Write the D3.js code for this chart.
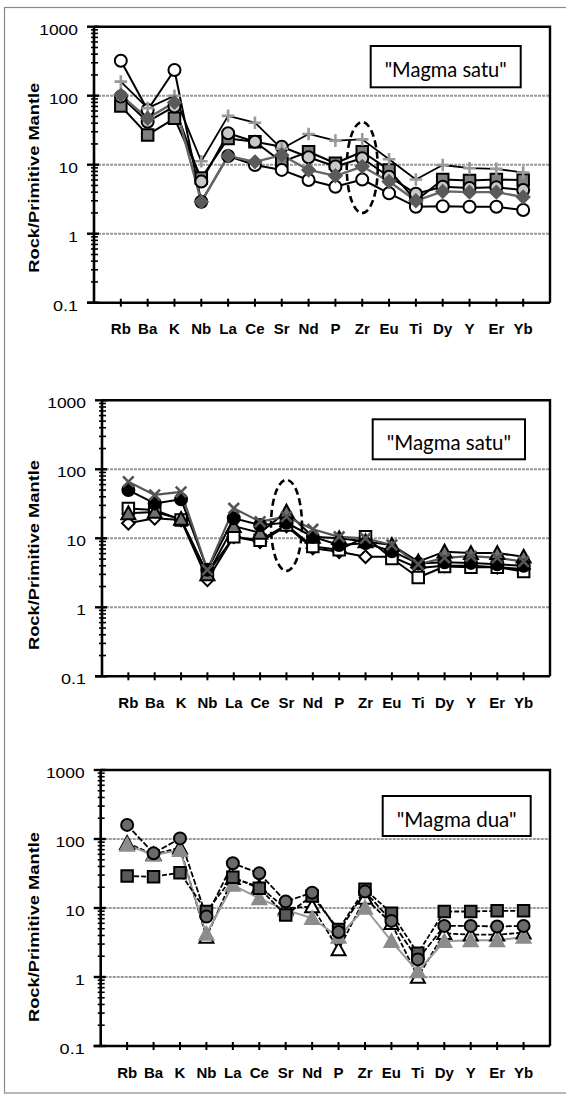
<!DOCTYPE html>
<html><head><meta charset="utf-8">
<script src="https://cdn.jsdelivr.net/npm/d3@7"></script>
<style>
html,body{margin:0;padding:0;background:#fff;}
svg{display:block;}
</style></head>
<body>
<svg id="chart" width="566" height="1095"></svg>
<script>
// ---------------- DATA ----------------
const categories = ["Rb","Ba","K","Nb","La","Ce","Sr","Nd","P","Zr","Eu","Ti","Dy","Y","Er","Yb"];
const yTickValues = [0.1, 1, 10, 100, 1000];
const yTickLabels = ["0.1", "1", "10", "100", "1000"];
const yTitle = "Rock/Primitive Mantle";

// Panel 1 — "Magma satu"
const p1OpenCircle  = [321, 62, 236, 2.9, 13.4, 9.9, 8.4, 6.0, 4.8, 6.1, 3.85, 2.46, 2.5, 2.46, 2.46, 2.2];
const p1Plus        = [160, 66, 100, 11.2, 51, 40.6, 17, 27.9, 22.3, 23.3, 12, 6.1, 9.9, 8.9, 8.7, 7.7];
const p1Square      = [71, 27, 47, 6.4, 24, 21.5, 11, 15.4, 10.5, 15.4, 8.4, 3.0, 6.1, 5.9, 6.1, 6.0];
const p1LightCircle = [97, 42, 70, 5.7, 28.5, 21.5, 18.2, 12.8, 9.4, 12.4, 6.7, 3.8, 4.8, 4.6, 4.7, 4.3];
const p1Diamond     = [102, 47, 80, 2.9, 13.4, 11, 13.8, 8.4, 6.9, 9.4, 5.7, 3.0, 4.1, 4.0, 4.0, 3.4];
const p1Label = "\"Magma satu\"";
const p1Ellipse = {cat: "Zr", value: 9.1};

// Panel 2 — "Magma satu"
const p2Cross       = [66, 42.5, 47, 3.5, 27.2, 17.4, 20.6, 13.5, 10.5, 10, 8, 4.2, 5.2, 5.5, 5.2, 4.6];
const p2BlackCircle = [50, 32, 36.7, 3.5, 19.5, 15.6, 16.8, 10.5, 8, 8.5, 6.5, 4.3, 4.5, 4.4, 4.2, 4.0];
const p2OpenSquare  = [27, 25.7, 18.4, 3.1, 10.5, 9.4, 15.6, 7.6, 6.8, 10.5, 5.1, 2.7, 3.9, 3.8, 3.8, 3.3];
const p2Triangle    = [23, 24, 19, 3.0, 15, 12, 24.3, 10.5, 10, 9, 8, 4.6, 6.4, 6.1, 6.1, 5.4];
const p2OpenDiamond = [16.5, 19.5, 18.4, 2.5, 10.5, 8.9, 15, 7.2, 6.4, 5.4, 5.4, 3.7, 4.0, 4.0, 3.8, 3.6];
const p2Label = "\"Magma satu\"";
const p2Ellipse = {cat: "Sr", value: 15.4};

// Panel 3 — "Magma dua"
const p3Square       = [29, 28.4, 32.5, 8.9, 27.9, 19.3, 7.9, 14.9, 4.9, 18.7, 8.4, 2.2, 8.9, 8.9, 9.1, 9.1];
const p3Circle       = [160, 62, 102, 7.5, 44.5, 31.8, 12.4, 16.7, 4.5, 17.3, 6.5, 1.8, 5.5, 5.5, 5.4, 5.5];
const p3OpenTriangle = [87, 60, 75, 3.8, 27, 20.4, 9.9, 10.5, 2.5, 14, 6, 1.0, 4.3, 4.1, 4.1, 4.4];
const p3GrayTriangle = [82, 58.6, 69, 4.2, 21.5, 13.8, 9.4, 7.1, 3.8, 10, 3.3, 1.2, 3.3, 3.4, 3.4, 3.8];
const p3Label = "\"Magma dua\"";

// ---------------- STYLE / LAYOUT ----------------
const FONT = "'Liberation Sans', Arial, Helvetica, sans-serif";
const panels = [
  {left: 94, right: 550, top: 26.7, bottom: 302.7, titleY: 177.7,
   box: {x: 370.7, y: 46, w: 150, h: 41.3}, label: p1Label, ellipse: p1Ellipse,
   series: [
     {data: p1Square, marker: "square", fill: "#808080", stroke: "#000", line: "#000", lw: 2},
     {data: p1LightCircle, marker: "circle", fill: "#c8c8c8", stroke: "#000", line: "#000", lw: 2},
     {data: p1OpenCircle, marker: "circle", fill: "#fff", stroke: "#000", line: "#000", lw: 2},
     {data: p1Plus, marker: "plus", fill: "none", stroke: "#999", line: "#000", lw: 1.8},
     {data: p1Diamond, marker: "diamond", fill: "#5a5a5a", stroke: "#5a5a5a", line: "#666", lw: 2.4}
   ]},
  {left: 102, right: 550, top: 400.3, bottom: 676.3, titleY: 555,
   box: {x: 372.7, y: 419.3, w: 152.3, h: 40}, label: p2Label, ellipse: p2Ellipse,
   series: [
     {data: p2OpenDiamond, marker: "diamond", fill: "#fff", stroke: "#000", line: "#000", lw: 2},
     {data: p2OpenSquare, marker: "square", fill: "#fff", stroke: "#000", line: "#000", lw: 2},
     {data: p2Triangle, marker: "triangle", fill: "#707070", stroke: "#000", line: "#000", lw: 2},
     {data: p2BlackCircle, marker: "circle", fill: "#000", stroke: "#000", line: "#000", lw: 2},
     {data: p2Cross, marker: "x", fill: "none", stroke: "#555", line: "#555", lw: 2.2}
   ]},
  {left: 100.7, right: 550, top: 770, bottom: 1046, titleY: 927,
   box: {x: 382.7, y: 796, w: 148, h: 40}, label: p3Label, ellipse: null,
   series: [
     {data: p3OpenTriangle, marker: "triangle", fill: "#fff", stroke: "#000", line: "#000", lw: 1.8, dash: "5,2"},
     {data: p3GrayTriangle, marker: "triangle", fill: "#8c8c8c", stroke: "#8c8c8c", line: "#999", lw: 2},
     {data: p3Square, marker: "square", fill: "#595959", stroke: "#000", line: "#000", lw: 1.8, dash: "5,2"},
     {data: p3Circle, marker: "circle", fill: "#6a6a6a", stroke: "#000", line: "#000", lw: 1.8, dash: "6,2"}
   ]}
];

const svg = d3.select("#chart");

// outer frame
svg.append("rect").attr("x", 4.5).attr("y", 7.5).attr("width", 620).attr("height", 1085.5)
  .attr("fill", "none").attr("stroke", "#8a8a8a").attr("stroke-width", 1.2);

function markerPath(type) {
  const r = 6.3;
  switch (type) {
    case "circle": return d3.symbol().type(d3.symbolCircle).size(Math.PI * 6 * 6)();
    case "square": return d3.symbol().type(d3.symbolSquare).size(11.5 * 11.5)();
    case "triangle": return `M0,${-r - 0.7}L${r + 0.7},${r - 0.5}L${-r - 0.7},${r - 0.5}Z`;
    case "diamond": return `M0,${-r}L${r},0L0,${r}L${-r},0Z`;
    case "plus": return `M${-r},0L${r},0M0,${-r}L0,${r}`;
    case "x": return `M${-r + 1},${-r + 1}L${r - 1},${r - 1}M${r - 1},${-r + 1}L${-r + 1},${r - 1}`;
  }
}

panels.forEach(p => {
  const g = svg.append("g");
  const x = d3.scalePoint().domain(categories).range([p.left, p.right]).padding(1);
  const y = d3.scaleLog().domain([0.1, 1000]).range([p.bottom, p.top]);

  // gridlines
  g.selectAll(".grid").data(yTickValues.filter(v => v > 0.1 && v < 1000)).join("line")
    .attr("x1", p.left).attr("x2", p.right)
    .attr("y1", d => y(d)).attr("y2", d => y(d))
    .attr("stroke", "#9a9a9a").attr("stroke-width", 2).attr("stroke-dasharray", "3,1");

  // plot frame (top & right)
  g.append("path")
    .attr("d", `M${p.left},${y(1000)}H${p.right}V${y(0.1)}`)
    .attr("fill", "none").attr("stroke", "#000").attr("stroke-width", 2.4);

  // minor log ticks
  const minors = [];
  for (let e = -1; e < 3; e++) for (let k = 2; k <= 9; k++) minors.push(k * Math.pow(10, e));
  g.selectAll(".minor").data(minors).join("line")
    .attr("x1", p.left - 3).attr("x2", p.left + 4)
    .attr("y1", d => y(d)).attr("y2", d => y(d))
    .attr("stroke", "#000").attr("stroke-width", 1.6);
  // major ticks
  g.selectAll(".major").data(yTickValues).join("line")
    .attr("x1", p.left - 7).attr("x2", p.left + 5)
    .attr("y1", d => y(d)).attr("y2", d => y(d))
    .attr("stroke", "#000").attr("stroke-width", 2.4);
  // y axis line
  g.append("line").attr("x1", p.left).attr("x2", p.left)
    .attr("y1", y(1000)).attr("y2", y(0.1)).attr("stroke", "#000").attr("stroke-width", 2.6);
  // x axis line
  g.append("line").attr("x1", p.left - 7).attr("x2", p.right)
    .attr("y1", y(0.1)).attr("y2", y(0.1)).attr("stroke", "#000").attr("stroke-width", 2.6);
  // x ticks
  g.selectAll(".xt").data(categories).join("line")
    .attr("x1", d => x(d)).attr("x2", d => x(d))
    .attr("y1", y(0.1) - 4).attr("y2", y(0.1) + 4)
    .attr("stroke", "#000").attr("stroke-width", 2);

  // y tick labels
  g.selectAll(".yl").data(yTickValues).join("text")
    .attr("x", p.left - 16).attr("y", d => y(d) + 8)
    .attr("text-anchor", "end")
    .style("font-family", FONT).attr("font-size", 15.5)
    .attr("textLength", (d, i) => yTickLabels[i].length * 9.7 - (yTickLabels[i].includes(".") ? 4 : 0))
    .attr("lengthAdjust", "spacingAndGlyphs")
    .text((d, i) => yTickLabels[i]);

  // x labels
  g.selectAll(".xl").data(categories).join("text")
    .attr("x", d => x(d)).attr("y", y(0.1) + 31.6)
    .attr("text-anchor", "middle")
    .style("font-family", FONT).attr("font-size", 15)
    .attr("font-weight", "bold")
    .text(d => d);

  // y title
  g.append("text")
    .attr("transform", `translate(38.5,${p.titleY}) rotate(-90)`)
    .attr("text-anchor", "middle")
    .style("font-family", FONT).attr("font-size", 15)
    .attr("font-weight", "bold")
    .attr("textLength", 190).attr("lengthAdjust", "spacingAndGlyphs")
    .text(yTitle);

  // series lines & markers
  const line = d3.line().x((d, i) => x(categories[i])).y(d => y(d));
  p.series.forEach(s => {
    g.append("path").datum(s.data).attr("d", line)
      .attr("fill", "none").attr("stroke", s.line).attr("stroke-width", s.lw)
      .attr("stroke-dasharray", s.dash || null).attr("stroke-linejoin", "round");
  });
  p.series.forEach(s => {
    g.selectAll(null).data(s.data).join("path")
      .attr("transform", (d, i) => `translate(${x(categories[i])},${y(d)})`)
      .attr("d", markerPath(s.marker))
      .attr("fill", s.fill).attr("stroke", s.stroke)
      .attr("stroke-width", (s.marker === "plus" || s.marker === "x") ? 2.6 : 2);
  });

  // ellipse
  if (p.ellipse) {
    g.append("ellipse")
      .attr("cx", x(p.ellipse.cat)).attr("cy", y(p.ellipse.value))
      .attr("rx", 15.5).attr("ry", 45.5)
      .attr("fill", "none").attr("stroke", "#000").attr("stroke-width", 2.6)
      .attr("stroke-dasharray", "7,4");
  }

  // label box
  g.append("rect").attr("x", p.box.x).attr("y", p.box.y).attr("width", p.box.w).attr("height", p.box.h)
    .attr("fill", "#fff").attr("stroke", "#000").attr("stroke-width", 2);
  g.append("text")
    .attr("x", p.box.x + p.box.w / 2).attr("y", p.box.y + 31)
    .attr("text-anchor", "middle")
    .style("font-family", "Lato, 'Open Sans', sans-serif").attr("font-size", 22)
    .attr("textLength", p.box.w - 28).attr("lengthAdjust", "spacingAndGlyphs")
    .text(p.label);
});
</script>
</body></html>
